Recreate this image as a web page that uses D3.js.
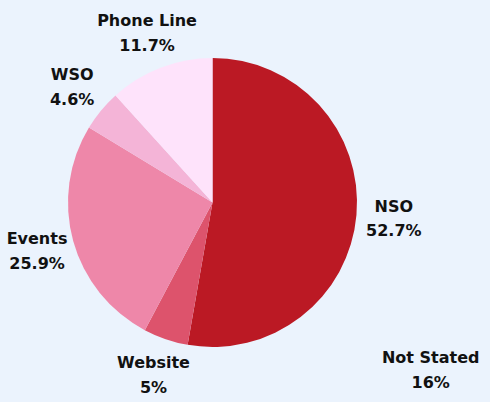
<!DOCTYPE html>
<html>
<head>
<meta charset="utf-8">
<script src="https://cdn.jsdelivr.net/npm/d3@7"></script>
<style>
  html, body { margin: 0; padding: 0; background: #ebf3fd; }
  svg { display: block; }
  text { font-family: "DejaVu Sans", sans-serif; font-weight: 700; fill: #111; }
</style>
</head>
<body>
<svg id="chart" width="490" height="402"></svg>
<script>
// Contact channels and their shares (%)
const categories = ["NSO", "Website", "Events", "WSO", "Phone Line"];
const shares = [52.7, 5, 25.9, 4.6, 11.7];
const colors = ["#bb1924", "#dd536c", "#ee87a9", "#f4b4d7", "#fee3fb"];

// Share reported without a slice of its own
const extraCategory = "Not Stated";
const extraShare = 16;

const width = 490, height = 402;
const cx = 212.5, cy = 202.5, radius = 144.5;
const labelRadius = 182;
const lineGap = 24.5;

const svg = d3.select("#chart");
const g = svg.append("g").attr("transform", `translate(${cx},${cy})`);

const data = categories.map((c, i) => ({ name: c, value: shares[i], color: colors[i] }));

const pie = d3.pie().value(d => d.value).sort(null);
const arc = d3.arc().innerRadius(0).outerRadius(radius);
const labelArc = d3.arc().innerRadius(labelRadius).outerRadius(labelRadius);

const arcs = pie(data);

g.selectAll("path.slice")
  .data(arcs)
  .join("path")
  .attr("class", "slice")
  .attr("d", arc)
  .attr("fill", d => d.data.color);

const fmt = v => `${v}%`;

function addLabel(x, y, name, value) {
  const t = g.append("text")
    .attr("text-anchor", "middle")
    .attr("font-size", 16);
  t.append("tspan").attr("x", x).attr("y", y - 6.5).text(name);
  t.append("tspan").attr("x", x).attr("y", y - 6.5 + lineGap).text(fmt(value));
}

arcs.forEach(d => {
  const [x, y] = labelArc.centroid(d);
  addLabel(x, y, d.data.name, d.data.value);
});

// Label for the share without a slice, set off to the lower right
const [ex, ey] = d3.pointRadial(127.5 * Math.PI / 180, 275);
addLabel(ex, ey, extraCategory, extraShare);
</script>
</body>
</html>
